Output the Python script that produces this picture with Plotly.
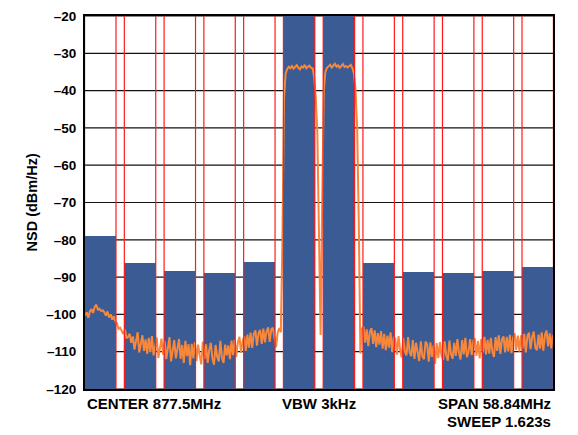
import numpy as np
import plotly.graph_objects as go

# Channel bars: centre frequency (MHz) and integrated level (dBm/Hz)
chan_mhz = [850, 855, 860, 865, 870, 875, 880, 885, 890, 895, 900, 905]
chan_nsd = [-78.9, -86.3, -88.4, -89.0, -86.0, -20.0, -20.0, -86.3, -88.7, -89.0, -88.4, -87.3]
chan_width_mhz = 3.95

# Measured spectrum trace (dBm/Hz), sweep starting at 848.1 MHz, 0.2 MHz step
sweep_start = 848.1
sweep_step = 0.2
nsd_trace = [
    -100.3, -99.4, -100.9, -99.2, -98.6, -99.6, -98.0, -97.4, -98.7, -98.5,
    -99.1, -98.9, -99.4, -100.3, -99.2, -100.8, -100.0, -101.4, -100.5, -101.9,
    -102.4, -103.9, -103.6, -104.6, -105.3, -104.1, -106.4, -106.0, -105.2, -107.6,
    -105.9, -109.4, -107.0, -104.8, -110.2, -107.9, -105.6, -109.8, -106.7, -110.6,
    -106.3, -110.1, -105.8, -111.0, -108.4, -106.2, -111.7, -108.9, -106.5, -110.8,
    -107.2, -112.0, -108.3, -106.1, -112.6, -109.0, -106.9, -111.8, -108.4, -106.6,
    -111.9, -108.2, -113.0, -107.1, -111.2, -108.0, -113.6, -107.9, -111.8, -107.4,
    -112.5, -108.1, -111.0, -113.4, -107.3, -111.9, -108.0, -113.0, -109.6, -107.6,
    -111.8, -113.5, -108.2, -111.4, -112.6, -107.1, -111.6, -113.0, -108.1, -111.0,
    -108.3, -112.0, -107.0, -110.9, -106.8, -111.4, -107.5, -106.0, -110.3, -107.0,
    -105.9, -109.8, -105.4, -108.9, -104.9, -109.0, -105.3, -104.3, -108.4, -105.0,
    -104.2, -107.9, -103.8, -107.5, -104.6, -103.5, -107.4, -104.0, -103.6, -106.9,
    -108.8, -104.9, -103.7, -104.8, -80.0, -42.0, -35.5, -34.2, -33.6, -34.0,
    -33.4, -34.1, -33.7, -33.2, -33.9, -34.3, -33.5, -33.8, -33.1, -34.0, -33.6, -33.3, -33.9,
    -34.0, -36.5, -42.0, -52.0, -75.0, -105.5, -70.0, -40.0, -35.0, -33.9,
    -33.5, -33.1, -33.8, -33.4, -32.8, -33.6, -33.2, -33.9, -33.3, -32.9, -33.7, -33.4, -33.8, -33.5, -33.1,
    -34.0, -35.5, -40.0, -50.0, -75.0, -110.5, -103.8,
    -103.3, -107.6, -104.0, -108.5, -104.6, -103.7, -107.9, -104.3, -108.8, -105.0,
    -108.1, -104.5, -109.2, -105.2, -109.6, -105.7, -108.9, -104.8, -110.1, -106.0,
    -106.5, -110.8, -105.8, -109.5, -111.6, -106.3, -110.0, -111.0, -106.1, -110.2,
    -111.2, -106.9, -111.9, -107.6, -110.8, -112.5, -107.2, -111.2, -112.0, -107.3,
    -108.0, -112.7, -107.5, -111.4, -108.3, -113.3, -107.7, -111.7, -107.4, -111.1,
    -112.2, -107.2, -111.0, -112.4, -107.0, -110.7, -111.9, -107.6, -111.1, -106.6,
    -110.4, -112.1, -106.9, -110.7, -106.3, -111.5, -110.1, -106.6, -110.9, -107.0,
    -106.4, -111.1, -107.1, -111.8, -106.6, -110.2, -106.0, -110.7, -106.8, -110.5,
    -106.3, -110.0, -111.4, -106.1, -109.8, -105.6, -110.6, -106.7, -105.9, -110.2,
    -106.0, -109.9, -105.5, -110.4, -106.2, -105.1, -109.5, -105.7, -110.0, -105.6,
    -109.1, -105.2, -110.2, -105.8, -104.9, -109.3, -106.1, -104.6, -108.9, -109.6,
    -105.4, -109.2, -104.8, -109.7, -105.6, -104.3, -108.6, -105.1, -109.1, -105.5,
]

y_ticks = [-120, -110, -100, -90, -80, -70, -60, -50, -40, -30, -20]
y_tick_text = ["–" + str(abs(v)) for v in y_ticks]

center_mhz = 877.5
span_mhz = 58.84
x_lo = center_mhz - span_mhz / 2
x_hi = center_mhz + span_mhz / 2

freq = sweep_start + sweep_step * np.arange(len(nsd_trace))

FONT = "Liberation Sans, Arial, sans-serif"
BAR_COLOR = "#3b5b95"
TRACE_COLOR = "#f7873b"

fig = go.Figure()
fig.add_trace(go.Bar(
    x=chan_mhz,
    y=[v - (-120) for v in chan_nsd],
    base=-120,
    width=chan_width_mhz,
    marker=dict(color=BAR_COLOR, line=dict(width=0)),
    hoverinfo="skip",
))
fig.add_trace(go.Scatter(
    x=freq, y=nsd_trace, mode="lines",
    line=dict(color=TRACE_COLOR, width=2),
    hoverinfo="skip",
))

# horizontal grid lines (below the bars)
for v in y_ticks:
    fig.add_shape(type="line", xref="paper", yref="y", x0=0, x1=1, y0=v, y1=v,
                  line=dict(color="#111111", width=1.2), layer="below")

# red channel edge markers
for c in chan_mhz:
    for edge in (c - chan_width_mhz / 2, c + chan_width_mhz / 2):
        fig.add_shape(type="line", xref="x", yref="paper",
                      x0=edge, x1=edge, y0=0, y1=1,
                      line=dict(color="#ff1a1a", width=1.2), layer="above")

fig.update_layout(
    width=578, height=435,
    margin=dict(l=77, r=33, t=8, b=54),
    plot_bgcolor="white", paper_bgcolor="white",
    showlegend=False,
    bargap=0,
    font=dict(family=FONT, size=14, color="black"),
    xaxis=dict(range=[x_lo, x_hi], showticklabels=False, showgrid=False,
               zeroline=False, showline=True, linecolor="black", linewidth=2,
               mirror=True, ticks="", automargin=False),
    yaxis=dict(range=[-120, -20], tickvals=y_ticks, ticktext=y_tick_text,
               showgrid=False, zeroline=False,
               showline=True, linecolor="black", linewidth=2, mirror=True,
               ticks="", ticklabelstandoff=4, automargin=False,
               ticklabeloverflow="allow",
               tickfont=dict(family=FONT, size=13.5, color="black", weight="bold")),
)

ann_font = dict(family=FONT, size=15, color="black")
fig.add_annotation(text="<b>NSD (dBm/Hz)</b>", xref="paper", yref="paper",
                   x=0, y=0.5, xshift=-54, xanchor="center", yanchor="middle",
                   textangle=-90, showarrow=False,
                   font=dict(family=FONT, size=14.5, color="black"))
fig.add_annotation(text="<b>CENTER 877.5MHz</b>", xref="paper", yref="paper",
                   x=0, y=0, xanchor="left", yanchor="middle", yshift=-14,
                   showarrow=False, font=ann_font)
fig.add_annotation(text="<b>VBW 3kHz</b>", xref="paper", yref="paper",
                   x=0.5, y=0, xanchor="center", yanchor="middle", yshift=-14,
                   showarrow=False, font=ann_font)
fig.add_annotation(text="<b>SPAN 58.84MHz</b>", xref="paper", yref="paper",
                   x=1, y=0, xanchor="right", yanchor="middle", yshift=-14,
                   showarrow=False, font=ann_font)
fig.add_annotation(text="<b>SWEEP 1.623s</b>", xref="paper", yref="paper",
                   x=1, y=0, xanchor="right", yanchor="middle", yshift=-32,
                   showarrow=False, font=ann_font)

fig.write_html("out.html")
